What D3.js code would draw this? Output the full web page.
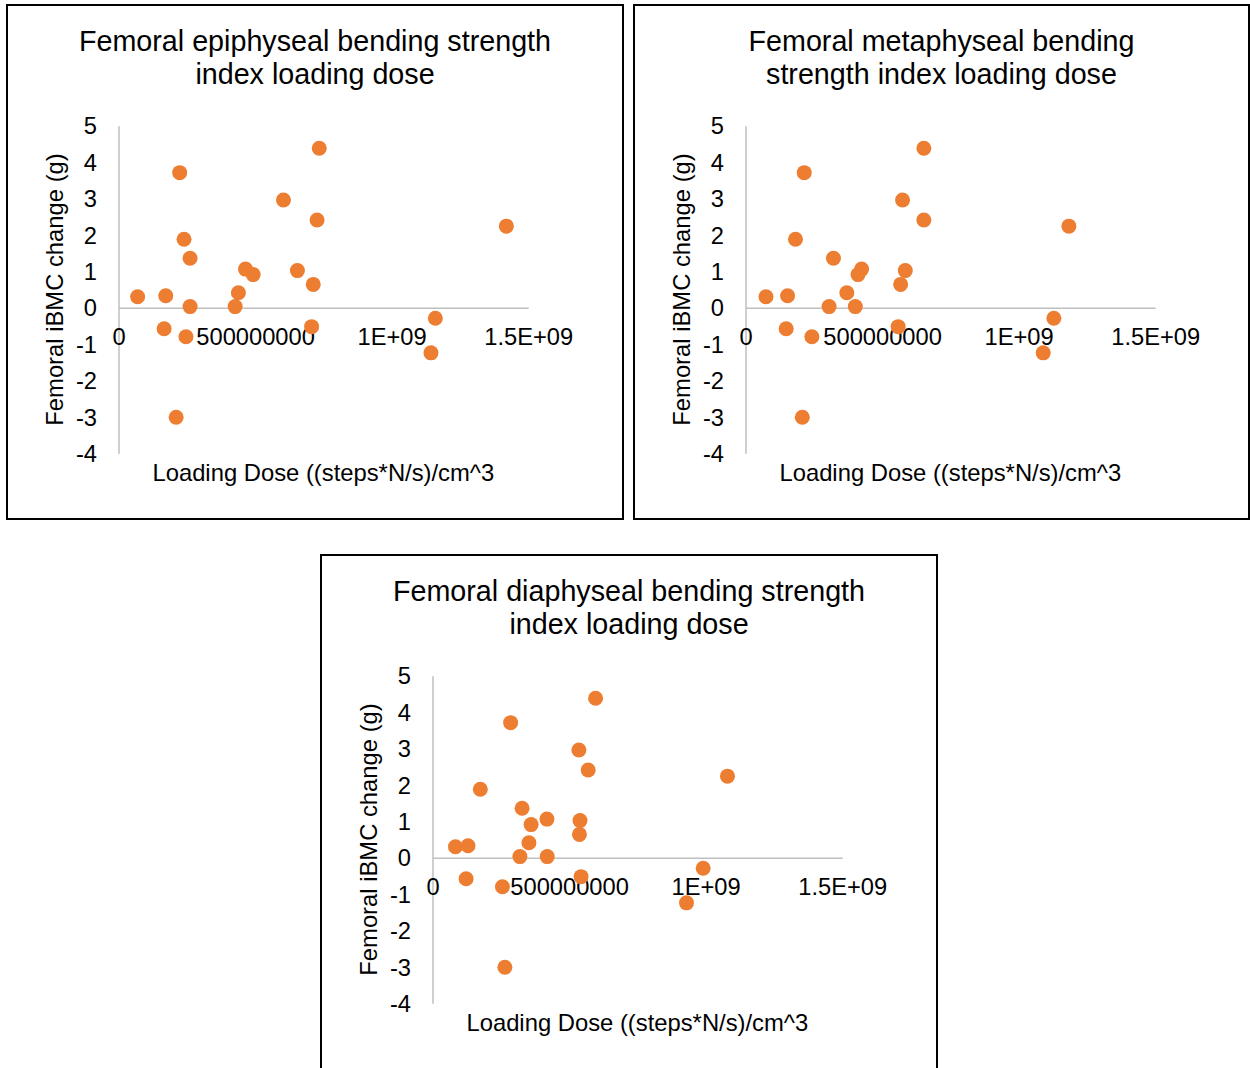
<!DOCTYPE html>
<html>
<head>
<meta charset="utf-8">
<script src="https://cdn.jsdelivr.net/npm/d3@7"></script>
<style>
  html, body { margin: 0; padding: 0; background: #fff; }
  svg { display: block; font-family: "Liberation Sans", Arial, sans-serif; }
</style>
</head>
<body>
<svg id="chart" width="1250" height="1068"></svg>
<script>
// ---- Data (loading dose in millions of (steps*N/s)/cm^3; iBMC change in g) ----
const ibmcChange = [0.30, 0.33, 3.71, 1.88, 1.36, 0.03, 0.03, -0.58, -0.80, -3.01, 0.41,
                    1.06, 0.91, 2.96, 1.02, 0.64, -0.52, 2.41, 4.38, 2.24, -0.29, -1.24];
const epiphysealDose  = [70, 173, 224, 240, 262, 262, 427, 167, 247, 211, 439,
                         465, 493, 604, 655, 713, 707, 727, 735, 1420, 1160, 1144];
const metaphysealDose = [75, 154, 215, 183, 322, 306, 402, 149, 243, 208, 371,
                         425, 412, 575, 585, 568, 559, 653, 653, 1184, 1129, 1090];
const diaphysealDose  = [84, 130, 286, 175, 328, 320, 420, 123, 256, 265, 353,
                         419, 361, 536, 540, 538, 544, 570, 597, 1080, 991, 930];

const xTickValues = [0, 500, 1000, 1500];
const xTickLabels = ["0", "500000000", "1E+09", "1.5E+09"];
const yTickValues = [5, 4, 3, 2, 1, 0, -1, -2, -3, -4];
const yTickLabels = ["5", "4", "3", "2", "1", "0", "-1", "-2", "-3", "-4"];

const titles = [
  ["Femoral epiphyseal bending strength", "index loading dose"],
  ["Femoral metaphyseal bending", "strength index loading dose"],
  ["Femoral diaphyseal bending strength", "index loading dose"]
];
const xAxisTitle = "Loading Dose ((steps*N/s)/cm^3";
const yAxisTitle = "Femoral iBMC change (g)";

// ---- Layout ----
const panels = [
  { x: 7,   y: 5,   w: 616, h: 514, title: titles[0], dose: epiphysealDose },
  { x: 634, y: 5,   w: 615, h: 514, title: titles[1], dose: metaphysealDose },
  { x: 321, y: 555, w: 616, h: 515, title: titles[2], dose: diaphysealDose }
];

const svg = d3.select("#chart");
const orange = "#ED7D31";
const axisGray = "#BFBFBF";

panels.forEach(p => {
  const g = svg.append("g").attr("transform", `translate(${p.x},${p.y})`);

  g.append("rect")
    .attr("x", 0).attr("y", 0).attr("width", p.w).attr("height", p.h)
    .attr("fill", "#fff").attr("stroke", "#000").attr("stroke-width", 2);

  const left = 111.5, plotW = 409.7, top = 120.7, plotH = 327.6;
  const x = d3.scaleLinear().domain([0, 1500]).range([left, left + plotW]);
  const y = d3.scaleLinear().domain([5, -4]).range([top, top + plotH]);

  // Title
  const cx = p.w / 2;
  p.title.forEach((line, i) => {
    g.append("text")
      .attr("x", cx).attr("y", 46 + i * 33)
      .attr("text-anchor", "middle")
      .attr("font-size", 28.7)
      .attr("fill", "#000")
      .text(line);
  });

  // Y axis (line only, labels)
  const yAxis = d3.axisLeft(y).tickValues(yTickValues).tickSize(0).tickPadding(14)
    .tickFormat((d, i) => yTickLabels[i]);
  const yg = g.append("g").attr("transform", `translate(${x(0)},0)`).call(yAxis);
  yg.select(".domain").attr("stroke", axisGray).attr("stroke-width", 1.5);
  yg.selectAll("text").attr("font-size", 23.7).attr("fill", "#000")
    .attr("font-family", "Liberation Sans, Arial, sans-serif")
    .attr("dy", "0.35em").attr("x", -(x(0) - 90));

  // X axis at y = 0
  const xAxis = d3.axisBottom(x).tickValues(xTickValues).tickSize(0).tickPadding(0)
    .tickFormat((d, i) => xTickLabels[i]);
  const xg = g.append("g").attr("transform", `translate(0,${y(0)})`).call(xAxis);
  xg.select(".domain").attr("stroke", axisGray).attr("stroke-width", 1.5);
  xg.selectAll("text").attr("font-size", 23.7).attr("fill", "#000")
    .attr("font-family", "Liberation Sans, Arial, sans-serif")
    .attr("y", 29).attr("dy", "0.35em");

  // Axis titles
  g.append("text")
    .attr("x", left + plotW / 2).attr("y", 476)
    .attr("text-anchor", "middle").attr("font-size", 23.8).attr("fill", "#000")
    .text(xAxisTitle);
  g.append("text")
    .attr("transform", `translate(56,${top + plotH / 2}) rotate(-90)`)
    .attr("text-anchor", "middle").attr("font-size", 23.8).attr("fill", "#000")
    .text(yAxisTitle);

  // Points
  g.append("g").selectAll("circle")
    .data(p.dose.map((d, i) => ({ dose: d, change: ibmcChange[i] })))
    .join("circle")
    .attr("cx", d => x(d.dose))
    .attr("cy", d => y(d.change))
    .attr("r", 7.5)
    .attr("fill", orange);
});
</script>
</body>
</html>
